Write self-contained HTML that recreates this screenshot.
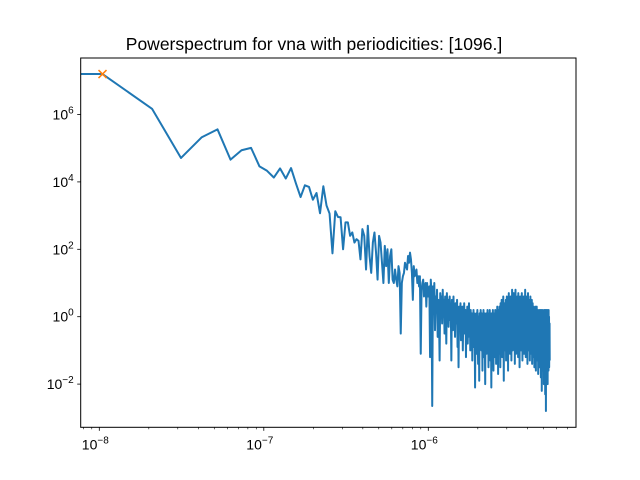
<!DOCTYPE html>
<html><head><meta charset="utf-8"><style>
body{margin:0;background:#fff;}
svg{display:block;font-family:"Liberation Sans","DejaVu Sans",sans-serif;}
</style></head>
<body>
<svg id="chart" width="640" height="480">
<rect x="0" y="0" width="640" height="480" fill="#fff"/>
<text x="314" y="50" text-anchor="middle" font-size="17.5" fill="#000">Powerspectrum for vna with periodicities: [1096.]</text>
<g id="plot"></g>
</svg>
<script>
const f0 = 1.046e-8;
const logPowerEarly = [7.20,6.17,4.71,5.32,5.56,4.66,4.94,5.01,4.46,4.33,4.13,4.40,4.10,4.41,3.95,3.55,3.90,3.85,3.47,3.67,3.07,3.87,3.30,3.06,1.88,3.13,2.96,
2.95,2.0,2.8,2.8,2.4,2.5,2.2,2.3,2.25,1.7,2.6,2.4,1.4,
2.7,1.8,1.3,2.2,2.5,1.9,1.1,2.4,2.2,1.6,
1.0,2.1,1.5,2.0,1.0,1.8,2.0,1.1,1.0,1.4,
1.1,0.9,1.5,1.3,-0.5,1.0,1.2,1.3,1.6,1.5,
1.4,1.8,1.6,1.9,1.7,1.3,0.5,1.5,1.2,1.3,
1.4,1.0,1.2,0.9,1.2,-1.1,0.8,1.0,1.1,0.6,
0.9,1.0,0.3,1.0,0.6,0.8,0.9,-1.2,1.1,0.7];
const logPowerLate = [-2.65,0.9,0.3,1.0,-0.4,0.6,0.2,0.8,-0.6,0.5,
0.1,-1.3,0.7,0.3,0.6,-0.2,0.8,0.0,0.5,-0.5,
0.6,0.3,-0.8,0.7,0.1,0.5,-0.3,0.4,0.6,-0.1,
0.3,-1.3,0.5,0.2,-0.4,0.6,0.0,0.3,-0.6,0.4,
0.1,-0.2,0.5,-0.9,0.2,-1.5,0.3,0.0,-0.4,0.4,
-0.7,0.2,-0.1,0.3,-1.0,0.1,-0.3,0.4,-0.5,0.0,
0.2,-1.2,0.1,-0.4,0.3,-0.8,0.0,-0.2,0.4,-0.6,
0.1,-1.0,0.2,-0.3,-0.7,0.1,-1.3,0.0,-0.4,0.2,
-0.9,0.1,-0.5,-2.1,0.0,-0.3,0.1,-1.1,-0.2,0.2,
-0.6,-1.4,0.0,-0.2,-1.9,0.1,-0.5,-0.8,0.2,-0.3,
-1.0,0.1,-0.4,-1.6,0.0,-0.7,0.2,-1.2,-0.3,0.1,
-0.8,-2.0,0.0,-0.5,0.1,-1.1,-0.2,-0.6,0.2,-0.9,
-0.1,-1.5,0.1,-0.4,-0.9,0.2,-0.3,-1.3,0.0,-0.6,
-2.1,0.1,-0.5,-0.2,-1.0,0.2,-0.4,-1.6,0.0,-0.7,
0.1,-1.2,-0.3,0.2,-0.8,-0.1,-1.4,0.1,-0.5,-0.2,
0.3,-0.9,-0.1,-1.7,0.2,-0.4,0.0,-1.1,0.3,-0.6,
-0.2,-1.5,0.4,-0.3,0.1,-0.8,0.5,-0.5,-1.2,0.2,
-0.1,-0.7,0.6,-0.3,-1.9,0.3,0.0,-0.6,0.4,-1.0,
0.2,-0.4,0.5,-1.3,0.1,-0.2,0.6,-0.8,0.3,-0.5,
0.0,-1.6,0.4,-0.3,0.7,-0.9,0.2,-0.1,0.5,-1.1,
0.3,-0.4,0.6,-0.7,0.1,-1.3,0.4,-0.2,0.8,-0.6,
0.2,-1.0,0.5,0.0,-0.5,0.7,-0.8,0.3,-0.3,0.6,
-1.4,0.4,-0.1,0.8,-0.6,0.2,-1.1,0.5,-0.2,0.3,
-0.9,0.6,0.0,-0.4,0.4,-1.2,0.7,-0.3,0.2,-0.7,
0.5,-0.1,-1.5,0.3,-0.4,0.6,-0.8,0.1,0.4,-0.5,
-1.0,0.3,0.0,0.7,-0.6,0.2,-1.3,0.5,-0.2,0.4,
-0.8,0.1,0.6,-0.4,-1.1,0.3,-0.1,0.5,-0.7,0.2,
0.8,-0.5,0.0,-1.2,0.4,-0.3,0.6,-0.9,0.1,0.3,
-0.6,0.5,-1.4,0.2,-0.2,0.7,-0.7,0.0,0.4,-1.0,
0.3,-0.4,0.1,-0.8,0.5,-1.3,0.2,-0.3,0.6,-0.6,
0.0,-1.1,0.4,-0.2,0.1,-0.9,0.5,-0.5,-1.4,0.3,
-0.1,0.4,-0.7,0.0,-1.2,0.3,-0.4,0.2,-0.9,0.1,
-0.3,-1.5,0.2,-0.6,0.1,-1.0,0.3,-0.2,-0.8,0.0,
-1.6,0.2,-0.4,0.0,-1.1,0.3,-0.7,-0.1,-1.3,0.1,
-0.5,0.2,-0.9,-0.2,-1.7,0.1,-0.4,-1.0,0.0,-0.6,
0.2,-1.2,-0.3,0.1,-0.8,-1.5,0.0,-0.5,0.2,-1.0,
-0.2,-1.8,0.1,-0.6,-1.1,0.2,-0.4,-2.2,-0.1,-0.7,
0.1,-1.3,-0.3,-0.9,0.2,-1.6,-0.5,0.0,-1.1,-0.4,
0.1,-2.0,-0.6,-0.2,-1.2,0.2,-0.8,-1.5,0.0,-0.5,
-2.3,0.2,-0.7,-1.0,0.1,-2.8,-0.4,-1.4,0.2,-0.9,
-0.3,-1.8,0.1,-0.6,-1.2,0.2,-0.5,-2.0,0.0,-0.8,
-1.3,0.1,-0.4,-1.6,0.2,-0.7,-1.1,0.0,-1.5,-0.6,
-1.2,-0.2,-1.3];
const peakIndex = [1];
const xTickExps = [-8,-7,-6];
const yTickExps = [-2,0,2,4,6];

const L=80.7,R=576,T=58,B=427.3;
const xs = lf => 99.3 + 164.5*(lf+8);
const ys = lv => 316.7 - 33.7*lv;
const NS="http://www.w3.org/2000/svg";
const svg=document.getElementById('chart');
const g=document.getElementById('plot');
function mk(t,a){const e=document.createElementNS(NS,t);for(const k in a)e.setAttribute(k,a[k]);return e;}

const vals = logPowerEarly.concat(logPowerLate);
const defs=mk('defs',{});const cp=mk('clipPath',{id:'clip'});
cp.appendChild(mk('rect',{x:L,y:T,width:R-L,height:B-T}));defs.appendChild(cp);svg.appendChild(defs);
let pts=[[xs(-9.5),ys(vals[0])]];
vals.forEach((v,i)=>{pts.push([xs(Math.log10((i+1)*f0)),ys(v)]);});
const line=mk('polyline',{points:pts.map(p=>p[0].toFixed(2)+','+p[1].toFixed(2)).join(' '),fill:'none',stroke:'#1f77b4','stroke-width':2,'stroke-linejoin':'round','clip-path':'url(#clip)'});


g.appendChild(line);

peakIndex.forEach(k=>{
  const cx=xs(Math.log10(k*f0)), cy=ys(vals[k-1]);
  const m=mk('path',{d:`M${cx-4},${cy-4}L${cx+4},${cy+4}M${cx-4},${cy+4}L${cx+4},${cy-4}`,stroke:'#ff7f0e','stroke-width':1.5,fill:'none'});
  
  
  g.appendChild(m);
});

const frame=mk('rect',{x:L,y:T,width:R-L,height:B-T,fill:'none',stroke:'#000','stroke-width':1});


g.appendChild(frame);

for(let e=-9;e<=-5;e++){for(let m=1;m<10;m++){
  const x=xs(e+Math.log10(m)); if(x<L||x>R)continue;
  const tk=mk('line',{x1:x,x2:x,y1:B,y2:B+(m===1?3.5:2),stroke:'#000','stroke-width':m===1?0.8:0.6});
  
  
  g.appendChild(tk);
}}
xTickExps.forEach(e=>{
  const x=xs(e);
  const t=mk('text',{x:x-4,y:B+22,'text-anchor':'middle','font-size':14,fill:'#000'});
  
  
  t.innerHTML='10<tspan dy="-6" font-size="10">'+'\u2212'+Math.abs(e)+'</tspan>';
  g.appendChild(t);
});
yTickExps.forEach(e=>{
  const y=ys(e);
  const tk=mk('line',{x1:L-3.5,x2:L,y1:y,y2:y,stroke:'#000','stroke-width':0.8});
  
  
  g.appendChild(tk);
  const t=mk('text',{x:L-7,y:y+5,'text-anchor':'end','font-size':14,fill:'#000'});
  
  
  t.innerHTML='10<tspan dy="-6" font-size="10">'+(e<0?'\u2212'+Math.abs(e):e)+'</tspan>';
  g.appendChild(t);
});
</script>
</body></html>
